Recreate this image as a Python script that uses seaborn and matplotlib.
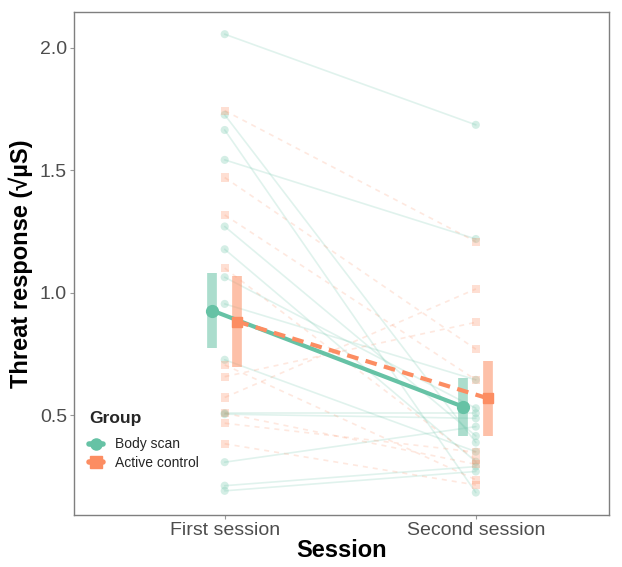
import numpy as np
import pandas as pd
import matplotlib.pyplot as plt
import seaborn as sns
from matplotlib.lines import Line2D

# -----------------------------
# Data
# -----------------------------
sessions = ["First session", "Second session"]
groups = ["Body scan", "Active control"]

body_first = [2.056, 1.727, 1.665, 1.543, 1.271, 1.178, 1.064, 0.955, 0.727,
              0.509, 0.505, 0.309, 0.213, 0.192]
body_second = [1.686, 0.389, 0.185, 1.220, 0.416, 0.311, 0.529, 0.645, 0.352,
               0.509, 0.488, 0.454, 0.291, 0.271]

active_first = [1.744, 1.471, 1.318, 1.101, 0.706, 0.658, 0.573, 0.509, 0.468, 0.384]
active_second = [1.209, 0.770, 0.645, 0.318, 0.237, 0.880, 1.016, 0.300, 0.350, 0.216]

# model estimates with intervals
body_mean = [0.928, 0.535]
body_low = [0.774, 0.416]
body_high = [1.083, 0.652]
active_mean = [0.883, 0.569]
active_low = [0.699, 0.414]
active_high = [1.069, 0.724]

palette = {"Body scan": "#66C2A5", "Active control": "#FC8D62"}
markers = {"Body scan": "o", "Active control": "s"}
offsets = {"Body scan": -0.05, "Active control": 0.05}

# long table of individual subjects
rows = []
for g, first, second in [("Body scan", body_first, body_second),
                         ("Active control", active_first, active_second)]:
    for i, (a, b) in enumerate(zip(first, second)):
        rows.append({"subject": f"{g}_{i}", "group": g, "x": 0, "value": a})
        rows.append({"subject": f"{g}_{i}", "group": g, "x": 1, "value": b})
df = pd.DataFrame(rows)

summary = {
    "Body scan": (body_mean, body_low, body_high),
    "Active control": (active_mean, active_low, active_high),
}

# -----------------------------
# Plot
# -----------------------------
sns.set_theme(style="white")
plt.rcParams["font.family"] = ["Liberation Sans", "DejaVu Sans"]

fig = plt.figure(figsize=(6.22, 5.67), dpi=100)
ax = fig.add_axes([0.119, 0.092, 0.860, 0.887])

sns.lineplot(
    data=df, x="x", y="value", hue="group", style="group", units="subject",
    estimator=None, palette=palette,
    dashes={"Body scan": "", "Active control": (3, 3)},
    alpha=0.2, linewidth=1.2, legend=False, ax=ax,
)
sns.scatterplot(
    data=df, x="x", y="value", hue="group", style="group",
    markers=markers, palette=palette, s=34, alpha=0.28,
    edgecolor=None, linewidth=0, legend=False, ax=ax, zorder=3,
)

for g in groups:
    m, lo, hi = summary[g]
    xs = np.arange(len(sessions)) + offsets[g]
    ax.vlines(xs, lo, hi, color=palette[g], linewidth=7, alpha=0.55, zorder=4)
    ax.plot(
        xs, m, color=palette[g], linewidth=3,
        linestyle="-" if g == "Body scan" else (0, (2.8, 1.8)),
        marker=markers[g], markersize=8.5 if g == "Body scan" else 7.5,
        zorder=5 if g == "Body scan" else 6,
    )

ax.set_xlim(-0.6, 1.53)
ax.set_ylim(0.094, 2.147)
ax.set_xticks(range(len(sessions)))
ax.set_xticklabels(sessions)
ax.set_yticks([0.5, 1.0, 1.5, 2.0])
ax.set_yticklabels(["0.5", "1.0", "1.5", "2.0"])
ax.tick_params(axis="both", labelsize=14, labelcolor="#4D4D4D", color="#999999",
               length=3, width=0.8, bottom=True, left=True, pad=2)

for s in ax.spines.values():
    s.set_color("#7F7F7F")
    s.set_linewidth(1.0)

ax.set_xlabel("Session", fontsize=17, fontweight="bold", color="black", labelpad=0)
ax.set_ylabel("Threat response (\u221a\u00b5S)", fontsize=17, fontweight="bold",
              color="black", labelpad=5)

handles = [
    Line2D([0], [0], color=palette[g], marker=markers[g], linestyle="-",
           linewidth=4, markersize=8)
    for g in groups
]
leg = ax.legend(
    handles, groups, title="Group", loc="lower left",
    bbox_to_anchor=(0.012, 0.072), frameon=False, fontsize=10,
    title_fontsize=12.5, handlelength=1.0, handletextpad=0.9,
    labelspacing=0.35, borderaxespad=0.2,
)
leg.get_title().set_fontweight("bold")
leg._legend_box.align = "left"
leg._legend_box.sep = 8  # more room between the title and the entries

fig.savefig("out.png", dpi=100)
